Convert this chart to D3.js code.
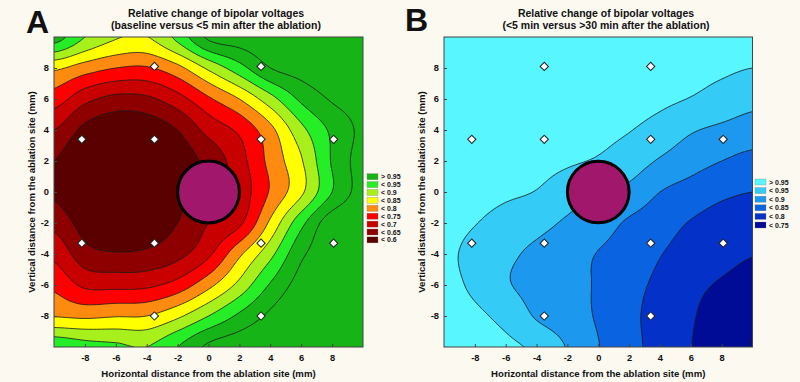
<!DOCTYPE html>
<html><head><meta charset="utf-8">
<script src="https://cdn.jsdelivr.net/npm/d3@7"></script>
<style>
body{margin:0;background:#fcf9f1}
svg{display:block}
text{font-family:"Liberation Sans",Arial,sans-serif;font-weight:bold;fill:#111}
</style></head>
<body><svg id="chart" width="800" height="382"></svg>
<script>
// grid of the surfaces (mm)
const gridX = [-10,-8,-6,-4,-2,0,2,4,6,8,10];
const gridY = [10,8,6,4,2,0,-2,-4,-6,-8,-10];
// panel A: baseline vs <5 min (rows from y=10 down to y=-10)
const voltA = [
 [0.975,0.90,0.855,0.848,0.915,1.01,1.025,1.03,1.03,1.03,1.03],
 [0.81,0.775,0.75,0.745,0.785,0.86,0.93,1.0,1.02,1.03,1.03],
 [0.725,0.665,0.635,0.64,0.68,0.742,0.80,0.88,0.96,1.005,1.02],
 [0.65,0.585,0.56,0.565,0.60,0.666,0.71,0.785,0.885,0.96,1.01],
 [0.60,0.545,0.525,0.53,0.57,0.615,0.68,0.765,0.845,0.955,1.02],
 [0.592,0.54,0.52,0.535,0.585,0.62,0.67,0.755,0.84,0.95,1.02],
 [0.636,0.575,0.54,0.565,0.60,0.65,0.69,0.81,0.935,1.03,1.04],
 [0.6875,0.62,0.605,0.61,0.635,0.69,0.79,0.885,0.99,1.03,1.04],
 [0.739,0.69,0.686,0.69,0.72,0.785,0.865,0.955,1.02,1.04,1.04],
 [0.797,0.79,0.797,0.80,0.84,0.90,0.96,1.01,1.04,1.04,1.04],
 [0.94,0.92,0.91,0.90,0.95,1.01,1.03,1.04,1.04,1.04,1.04]
];
// panel B: <5 min vs >30 min
const voltB = [
 [1.0,1.0,1.0,1.0,1.0,1.0,1.0,0.99,0.98,0.975,0.97],
 [1.0,1.0,1.0,1.0,1.0,0.995,0.985,0.975,0.965,0.958,0.95],
 [1.0,1.0,1.0,1.0,0.995,0.985,0.97,0.96,0.948,0.932,0.915],
 [1.0,1.0,1.0,0.995,0.98,0.965,0.952,0.932,0.905,0.89,0.877],
 [1.0,0.995,0.985,0.97,0.957,0.945,0.925,0.895,0.87,0.85,0.835],
 [0.99,0.975,0.96,0.948,0.923,0.902,0.887,0.85,0.83,0.81,0.80],
 [0.97,0.952,0.93,0.915,0.893,0.872,0.843,0.82,0.797,0.78,0.772],
 [0.96,0.935,0.91,0.89,0.87,0.848,0.83,0.802,0.782,0.765,0.752],
 [0.965,0.94,0.905,0.885,0.865,0.845,0.815,0.79,0.763,0.745,0.732],
 [0.975,0.96,0.935,0.895,0.87,0.845,0.81,0.785,0.755,0.728,0.712],
 [0.985,0.975,0.96,0.94,0.897,0.852,0.815,0.782,0.751,0.722,0.697]
];
const levelsA = [0.6,0.65,0.7,0.75,0.8,0.85,0.9,0.95,1.0];
const levelsB = [0.7,0.75,0.8,0.85,0.9,0.95];
const legendA = ["> 0.95","< 0.95","< 0.9","< 0.85","< 0.8","< 0.75","< 0.7","< 0.65","< 0.6"];
const upperA  = [null,0.95,0.9,0.85,0.8,0.75,0.7,0.65,0.6];
const colorsA = ["#16b416","#26ee26","#a8f01c","#ffff00","#ff8a10","#ff0000","#c80000","#8e0000","#5a0000"];
const legendB = ["> 0.95","< 0.95","< 0.9","< 0.85","< 0.8","< 0.75"];
const upperB  = [null,0.95,0.9,0.85,0.8,0.75];
const colorsB = ["#58f6ff","#34cbf6","#1c98ee","#0a64e2","#0432c8","#000c96"];
const tickValues = [-8,-6,-4,-2,0,2,4,6,8];
const siteX = [-8.2,-3.5,-3.5,3.4,3.4,8.1,8.1,3.4,3.4,-3.5,-3.5,-8.2];
const siteY = [3.4,3.4,8.1,8.1,3.4,3.4,-3.3,-3.3,-8,-8,-3.3,-3.3];
const ablationRadius = 2;

const svg = d3.select("#chart");

function bandColor(level, uppers, colors){
  let best = 0, bu = Infinity;
  uppers.forEach((u,i)=>{ if(u!==null && u>level+1e-9 && u<bu){bu=u;best=i;} });
  return colors[best];
}

// render-time smoothing of the grid (Catmull-Rom), extended one cell beyond the frame
function smoothGrid(rows, k){
  const nr = rows.length, nc = rows[0].length;
  const get=(r,c)=>rows[Math.max(0,Math.min(nr-1,r))][Math.max(0,Math.min(nc-1,c))];
  const cr=(p0,p1,p2,p3,t)=>0.5*(2*p1+(-p0+p2)*t+(2*p0-5*p1+4*p2-p3)*t*t+(-p0+3*p1-3*p2+p3)*t*t*t);
  const nx=(nc+1)*k+1, ny=(nr+1)*k+1, out=new Array(nx*ny);
  for(let sy=0;sy<ny;sy++){
    const tr=-1+sy/k, r0=Math.floor(tr), fr=tr-r0;
    for(let sx=0;sx<nx;sx++){
      const tc=-1+sx/k, c0=Math.floor(tc), fc=tc-c0;
      const col=[];
      for(let j=-1;j<=2;j++) col.push(cr(get(r0+j,c0-1),get(r0+j,c0),get(r0+j,c0+1),get(r0+j,c0+2),fc));
      out[sy*nx+sx]=cr(col[0],col[1],col[2],col[3],fr);
    }
  }
  return {values:out,nx,ny};
}

function panel(o){
  const x = d3.scaleLinear().domain([-10,10]).range([o.left,o.right]);
  const y = d3.scaleLinear().domain([-10,10]).range([o.bottom,o.top]);
  const ix = d3.scaleLinear().domain([0,gridX.length-1]).range([gridX[0],gridX[gridX.length-1]]);
  const iy = d3.scaleLinear().domain([0,gridY.length-1]).range([gridY[0],gridY[gridY.length-1]]);
  const k = 8;
  const g = svg.append("g");
  const cid = "clip"+o.name;
  g.append("clipPath").attr("id",cid).append("rect")
    .attr("x",o.left).attr("y",o.top).attr("width",o.right-o.left).attr("height",o.bottom-o.top);
  const sm = smoothGrid(o.values,k);
  const proj = d3.geoTransform({point(px,py){
    const tx=-1+(px-0.5)/k, ty=-1+(py-0.5)/k;
    this.stream.point(x(ix(tx)), y(iy(ty)));
  }});
  const path = d3.geoPath(proj);
  const contours = d3.contours().size([sm.nx,sm.ny]).thresholds(o.levels)(sm.values);
  const plot = g.append("g").attr("clip-path",`url(#${cid})`);
  plot.append("rect").attr("x",o.left).attr("y",o.top).attr("width",o.right-o.left).attr("height",o.bottom-o.top)
    .attr("fill",bandColor(-Infinity,o.uppers,o.colors));
  plot.selectAll("path.f").data(contours).join("path").attr("class","f")
    .attr("d",path).attr("fill",d=>bandColor(d.value,o.uppers,o.colors)).attr("stroke","none");
  plot.selectAll("path.l").data(contours).join("path").attr("class","l")
    .attr("d",path).attr("fill","none").attr("stroke","#1a1a1a").attr("stroke-width",0.8);
  // ablation site
  plot.append("circle").attr("cx",x(0)).attr("cy",y(0)).attr("r",x(ablationRadius)-x(0))
    .attr("fill","#a1176c").attr("stroke","#000").attr("stroke-width",3);
  // measurement sites
  plot.selectAll("path.s").data(siteX.map((v,i)=>[v,siteY[i]])).join("path").attr("class","s")
    .attr("d",d3.symbol(d3.symbolSquare,34)())
    .attr("transform",d=>`translate(${x(d[0])},${y(d[1])}) rotate(45)`)
    .attr("fill","#fff").attr("stroke","#222").attr("stroke-width",1);
  // frame
  g.append("rect").attr("x",o.left).attr("y",o.top).attr("width",o.right-o.left).attr("height",o.bottom-o.top)
    .attr("fill","none").attr("stroke","#444").attr("stroke-width",1);
  // axes
  const fmt = d=>String(d);
  const ax = g.append("g").attr("transform",`translate(0,${o.bottom})`)
    .call(d3.axisBottom(x).tickValues(tickValues).tickFormat(fmt).tickSize(-3).tickSizeOuter(0).tickPadding(7.5));
  const ay = g.append("g").attr("transform",`translate(${o.left},0)`)
    .call(d3.axisLeft(y).tickValues(tickValues).tickFormat(fmt).tickSize(-3).tickSizeOuter(0).tickPadding(5));
  [ax,ay].forEach(a=>{a.select(".domain").remove();
    a.selectAll("line").attr("stroke","#444");
    a.selectAll("text").attr("font-size",9.3).attr("font-family",null).attr("fill","#111");});
  g.append("text").attr("x",(o.left+o.right)/2).attr("y",377).attr("text-anchor","middle")
    .attr("font-size",9.6).text("Horizontal distance from the ablation site (mm)");
  g.append("text").attr("transform",`translate(${o.left-19.5},${(o.top+o.bottom)/2}) rotate(-90)`)
    .attr("text-anchor","middle").attr("font-size",9.6).text("Vertical distance from the ablation site (mm)");
  // titles
  g.append("text").attr("x",o.titleX).attr("y",17).attr("text-anchor","middle").attr("font-size",10.5).text(o.title1);
  g.append("text").attr("x",o.titleX).attr("y",29).attr("text-anchor","middle").attr("font-size",10.5).text(o.title2);
  g.append("text").attr("x",o.letterX).attr("y",o.letterY).attr("font-size",32).text(o.name);
  // legend
  const lg = g.append("g");
  o.legend.forEach((lab,i)=>{
    const yy = o.legendY + i*o.legendStep;
    lg.append("rect").attr("x",o.legendX).attr("y",yy-3).attr("width",11).attr("height",6)
      .attr("fill",o.colors[i]).attr("stroke","#777").attr("stroke-width",0.3);
    lg.append("text").attr("x",o.legendX+14).attr("y",yy+2.5).attr("font-size",7).text(lab);
  });
}

panel({name:"A",left:54,right:363,top:37,bottom:347,values:voltA,levels:levelsA,uppers:upperA,colors:colorsA,
  legend:legendA,legendX:367,legendY:176.7,legendStep:7.9,titleX:216,letterX:26,letterY:33,
  title1:"Relative change of bipolar voltages",title2:"(baseline versus <5 min after the ablation)"});
panel({name:"B",left:444,right:752.5,top:37,bottom:347,values:voltB,levels:levelsB,uppers:upperB,colors:colorsB,
  legend:legendB,legendX:755,legendY:182,legendStep:8.6,titleX:606,letterX:405,letterY:31,
  title1:"Relative change of bipolar voltages",title2:"(<5 min versus >30 min after the ablation)"});
</script></body></html>
